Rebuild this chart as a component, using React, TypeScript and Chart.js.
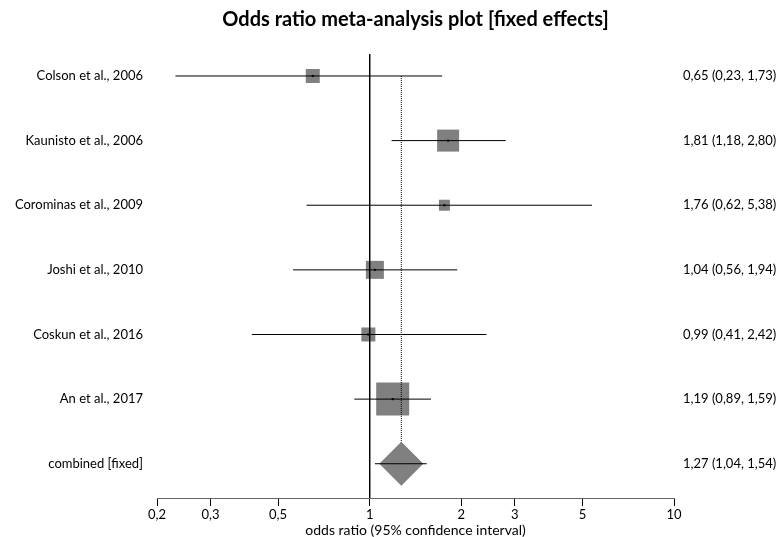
import { useEffect, useRef } from 'react';
import { Chart, registerables } from 'chart.js';

Chart.register(...registerables);

// Study-level odds ratios with 95% confidence intervals
const studyNames = [
  'Colson et al., 2006',
  'Kaunisto et al., 2006',
  'Corominas et al., 2009',
  'Joshi et al., 2010',
  'Coskun et al., 2016',
  'An et al., 2017',
];
const oddsRatios = [0.65, 1.81, 1.76, 1.04, 0.99, 1.19];
const lowerCI = [0.23, 1.18, 0.62, 0.56, 0.41, 0.89];
const upperCI = [1.73, 2.8, 5.38, 1.94, 2.42, 1.59];

// Pooled (fixed effects) estimate
const pooledName = 'combined [fixed]';
const pooledOR = 1.27;
const pooledLower = 1.04;
const pooledUpper = 1.54;

const nullEffect = 1;
const oddsTicks = [0.2, 0.3, 0.5, 1, 2, 3, 5, 10];

// Marker side lengths (px) for the study weight boxes
const boxSides = [14, 22, 11, 18, 14, 33];

const Y_MIN = -0.34;
const Y_MAX = 6.53;

const fmt = (v: number) => v.toFixed(2).replace('.', ',');
const rowNames = [...studyNames, pooledName];
const rowSummaries = [
  ...oddsRatios.map((v, i) => `${fmt(v)} (${fmt(lowerCI[i])}, ${fmt(upperCI[i])})`),
  `${fmt(pooledOR)} (${fmt(pooledLower)}, ${fmt(pooledUpper)})`,
];
const pooledRow = studyNames.length;

const FONT = 'Lato, "DejaVu Sans", sans-serif';

// Study names on the left, estimate (CI) text on the right, one per row
const rowTextPlugin = {
  id: 'rowText',
  afterDraw(chart: any) {
    const { ctx, chartArea } = chart;
    const yScale = chart.scales.y;
    ctx.save();
    ctx.font = `13px ${FONT}`;
    ctx.fillStyle = '#000';
    ctx.textBaseline = 'middle';
    rowNames.forEach((name, i) => {
      const py = yScale.getPixelForValue(i);
      ctx.textAlign = 'right';
      ctx.fillText(name, chartArea.left - 14, py);
      ctx.textAlign = 'left';
      ctx.fillText(rowSummaries[i], chartArea.right + 9, py);
    });
    ctx.restore();
  },
};

export default function App() {
  const ref = useRef<HTMLCanvasElement | null>(null);

  useEffect(() => {
    if (!ref.current) return;

    const ciLines = [...oddsRatios.map((_, i) => [lowerCI[i], upperCI[i], i]), [pooledLower, pooledUpper, pooledRow]].map(
      ([lo, hi, row]) => ({
        type: 'line',
        data: [
          { x: lo, y: row },
          { x: hi, y: row },
        ],
        borderColor: '#000',
        borderWidth: 1,
        pointRadius: 0,
        order: 1,
      })
    );

    const chart = new Chart(ref.current, {
      type: 'scatter',
      data: {
        datasets: [
          // center marks
          {
            type: 'scatter',
            data: oddsRatios.map((v, i) => ({ x: v, y: i })),
            pointStyle: 'rect',
            pointRadius: 1.5,
            backgroundColor: '#000',
            borderWidth: 0,
            order: 0,
          },
          ...ciLines,
          // pooled diamond
          {
            type: 'scatter',
            data: [{ x: pooledOR, y: pooledRow }],
            pointStyle: 'rectRot',
            pointRadius: 22,
            backgroundColor: '#808080',
            borderWidth: 0,
            order: 2,
          },
          // pooled estimate reference (dotted)
          {
            type: 'line',
            data: [
              { x: pooledOR, y: 0 },
              { x: pooledOR, y: pooledRow },
            ],
            borderColor: '#000',
            borderWidth: 1,
            borderDash: [1, 1],
            pointRadius: 0,
            order: 3,
          },
          // line of no effect
          {
            type: 'line',
            data: [
              { x: nullEffect, y: Y_MIN },
              { x: nullEffect, y: Y_MAX },
            ],
            borderColor: '#000',
            borderWidth: 1,
            pointRadius: 0,
            order: 4,
          },
          // study weight boxes
          {
            type: 'scatter',
            data: oddsRatios.map((v, i) => ({ x: v, y: i })),
            pointStyle: 'rect',
            pointRadius: boxSides.map((s) => s / Math.SQRT2),
            backgroundColor: '#808080',
            borderWidth: 0,
            order: 5,
          },
        ] as any,
      },
      plugins: [rowTextPlugin],
      options: {
        animation: false,
        responsive: true,
        maintainAspectRatio: false,
        events: [],
        layout: { padding: { left: 157, right: 110, top: 0, bottom: 0 } },
        font: { family: FONT },
        plugins: {
          legend: { display: false },
          tooltip: { enabled: false },
          title: {
            display: true,
            fullSize: false,
            text: 'Odds ratio meta-analysis plot [fixed effects]',
            color: '#000',
            font: { size: 20, weight: 'bold', family: FONT, lineHeight: 1.2 },
            padding: { top: 8, bottom: 22 },
          },
        },
        scales: {
          x: {
            type: 'logarithmic',
            position: 'bottom',
            min: 0.2,
            max: 10,
            afterBuildTicks: (s: any) => {
              s.ticks = oddsTicks.map((v) => ({ value: v }));
            },
            afterFit: (s: any) => {
              s.height = 39;
            },
            grid: {
              display: true,
              drawOnChartArea: false,
              drawTicks: true,
              tickLength: 8,
              color: '#000',
            },
            border: { display: true, color: '#666', width: 1 },
            ticks: {
              padding: 2,
              autoSkip: false,
              maxRotation: 0,
              color: '#000',
              font: { size: 13, family: FONT, lineHeight: 1 },
              callback: (v: any) => String(v).replace('.', ','),
            },
            title: {
              display: true,
              text: 'odds ratio (95% confidence interval)',
              color: '#000',
              font: { size: 14, family: FONT, lineHeight: 1 },
              padding: { top: 0, bottom: 0 },
            },
          },
          y: {
            type: 'linear',
            display: false,
            reverse: true,
            min: Y_MIN,
            max: Y_MAX,
          },
        } as any,
      },
    } as any);

    return () => chart.destroy();
  }, []);

  return (
    <div style={{ position: 'fixed', left: 0, top: 0, width: 784, height: 537, background: '#fff' }}>
      <canvas ref={ref} />
    </div>
  );
}
